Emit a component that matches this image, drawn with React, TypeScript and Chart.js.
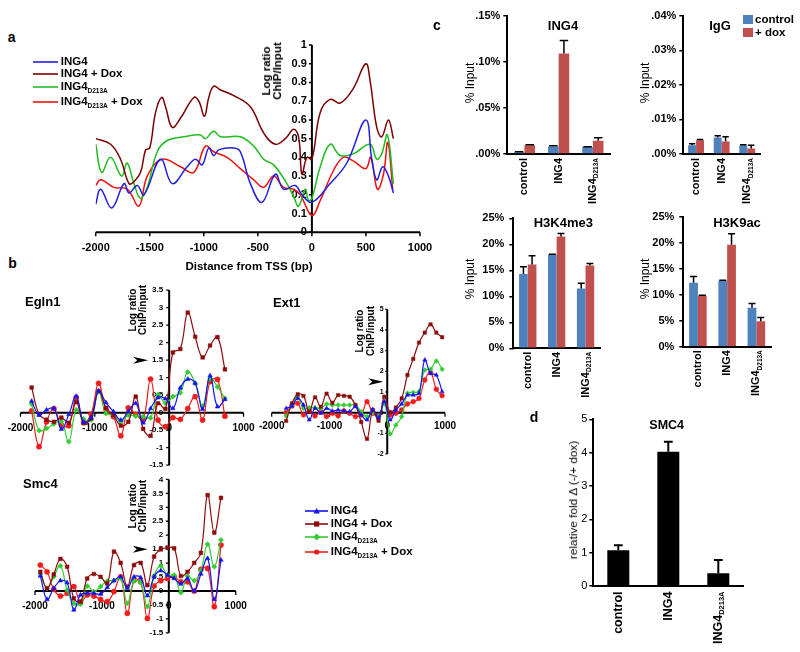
import React, { useEffect, useRef } from 'react';
import { Chart, registerables } from 'chart.js';

Chart.register(...registerables);

const FONT = '"Liberation Sans", Arial, Helvetica, sans-serif';

// ================= Panel a (smoothed ChIP-chip profiles) =================
const A_ING4_X = [-2000,-1954,-1852,-1738,-1692,-1615,-1554,-1400,-1292,-1154,-1077,-1015,-954,-908,-862,-723,-662,-569,-462,-338,-262,-154,-92,0,169,323,498,554,600,655,708,754];
const A_ING4_Y = [0.15,0.23,0.13,0.26,0.21,0.25,0.20,0.39,0.26,0.35,0.39,0.36,0.45,0.41,0.44,0.45,0.43,0.26,0.16,0.31,0.23,0.25,0.20,0.16,0.26,0.37,0.60,0.39,0.28,0.35,0.30,0.21];
const A_DOX_X = [-2000,-1862,-1770,-1692,-1646,-1585,-1538,-1500,-1446,-1390,-1354,-1292,-1215,-1092,-1046,-994,-954,-908,-846,-723,-569,-446,-338,-246,-169,-123,-92,-46,0,77,169,262,385,498,538,600,646,708,754];
const A_DOX_Y = [0.50,0.47,0.39,0.26,0.27,0.32,0.44,0.45,0.64,0.72,0.67,0.56,0.61,0.72,0.70,0.62,0.72,0.78,0.76,0.73,0.67,0.53,0.47,0.50,0.55,0.51,0.31,0.40,0.39,0.64,0.71,0.69,0.77,0.90,0.81,0.56,0.51,0.60,0.50];
const A_MUT_X = [-2000,-1945,-1862,-1760,-1710,-1646,-1585,-1523,-1431,-1338,-1185,-1031,-985,-908,-846,-662,-538,-446,-354,-231,-169,-123,-62,-31,0,77,169,262,385,538,600,646,698,754];
const A_MUT_Y = [0.47,0.32,0.40,0.30,0.37,0.26,0.18,0.24,0.43,0.49,0.51,0.52,0.50,0.54,0.51,0.51,0.46,0.39,0.36,0.26,0.19,0.14,0.23,0.17,0.18,0.35,0.47,0.41,0.42,0.47,0.39,0.42,0.52,0.26];
const A_MUTDOX_X = [-2000,-1954,-1831,-1708,-1600,-1523,-1385,-1215,-1092,-985,-908,-785,-662,-538,-446,-354,-262,-169,-108,0,77,200,292,385,498,545,606,662,702,748];
const A_MUTDOX_Y = [0.25,0.28,0.24,0.23,0.14,0.30,0.39,0.35,0.32,0.46,0.43,0.40,0.34,0.28,0.24,0.30,0.24,0.23,0.20,0.09,0.17,0.33,0.40,0.38,0.34,0.40,0.23,0.31,0.48,0.23];
const A_X_TICKS = [-2000,-1500,-1000,-500,0,500,1000];
const A_X_LABELS = ['-2000','-1500','-1000','-500','0','500','1000'];
const A_Y_TICKS = [0,0.1,0.2,0.3,0.4,0.5,0.6,0.7,0.8,0.9,1];
const A_Y_LABELS = ['0','0.1','0.2','0.3','0.4','0.5','0.6','0.7','0.8','0.9','1'];

// ================= Panel b (probe-level profiles) =================
const B_X_TICKS = [-2000,-1000,0,1000];
const B_X_LABELS = ['-2000','-1000','0','1000'];

const EGLN1_X = [-1850,-1750,-1650,-1550,-1450,-1350,-1250,-1150,-1050,-950,-850,-750,-650,-550,-450,-350,-250,-150,-50,50,150,250,350,450,550,650,750];
const EGLN1_ING4 = [0.33,-0.07,0.08,0.12,-0.47,-0.05,0.47,-0.27,-0.14,0.62,0.29,0.03,-0.21,0.03,0.27,-0.29,0.12,0.43,0.40,0.12,0.71,0.96,0.84,0.10,1.06,0.17,0.38];
const EGLN1_DOX = [0.72,-0.05,-0.20,-0.26,-0.14,-0.29,0.30,-0.30,-0.16,0.62,0.14,-0.07,-0.37,-0.26,0.46,-0.46,-0.66,0.27,0.11,1.72,1.82,2.86,2.17,1.58,1.92,2.16,1.24];
const EGLN1_MUT = [0.25,-0.51,-0.45,-0.32,-0.25,-0.83,0.08,-0.18,-0.21,0.60,-0.02,-0.07,-0.26,-0.07,-0.10,-0.11,-0.15,0.52,0.27,0.46,0.57,1.16,0.84,0.19,0.98,0.74,0.41];
const EGLN1_MUTDOX = [0.05,-0.97,-0.26,0.12,-0.35,-0.37,0.44,-0.28,-0.04,0.84,0.10,-0.11,-0.66,0.14,-0.05,-0.19,0.96,-0.21,-0.40,-0.14,-0.19,0.12,0.46,-0.21,0.89,0.95,-0.10];
const EGLN1_Y_TICKS = [-1.5,-1,-0.5,0,0.5,1,1.5,2,2.5,3,3.5];
const EGLN1_Y_LABELS = ['-1.5','-1','-0.5','0','0.5','1','1.5','2','2.5','3','3.5'];

const EXT1_X = [-1750,-1650,-1550,-1450,-1350,-1250,-1150,-1050,-950,-850,-750,-650,-550,-450,-350,-250,-150,-50,50,150,250,350,450,550,650,750,850,950];
const EXT1_ING4 = [0.21,0.32,0.69,0.37,-0.35,0.21,-0.03,0.21,0.08,0.13,0.08,0.05,0.29,-0.11,-0.35,0.16,-0.24,0.53,-0.35,0.13,0.42,0.85,0.85,0.94,2.55,1.90,1.82,1.02];
const EXT1_DOX = [-0.40,0.45,0.89,0.81,0.05,0.74,0.29,0.92,0.48,0.85,0.81,0.77,0.37,-0.45,-1.27,0.13,-0.39,0.77,0.02,0.25,0.69,1.82,2.60,3.39,3.87,4.27,3.87,3.65];
const EXT1_MUT = [-0.16,0.37,0.77,0.21,0.24,0.24,0.21,0.42,0.37,0.37,0.37,0.37,0.37,0.05,-0.19,0.00,-0.19,0.45,-1.03,-0.60,-0.19,0.94,0.98,1.02,2.06,2.10,2.50,2.10];
const EXT1_MUTDOX = [0.00,0.32,0.45,-0.11,0.13,-0.16,0.05,-0.19,-0.03,-0.16,0.08,-0.03,-0.19,-0.11,0.53,-0.03,-0.16,0.45,-0.11,-0.03,0.13,0.42,0.53,0.69,1.58,1.94,1.13,0.82];
const EXT1_Y_TICKS = [-2,-1,0,1,2,3,4,5];
const EXT1_Y_LABELS = ['-2','-1','0','1','2','3','4','5'];

const SMC4_X = [-1920,-1820,-1720,-1620,-1520,-1420,-1320,-1220,-1120,-1020,-920,-820,-720,-620,-520,-420,-320,-220,-120,-20,80,180,280,380,480,580,680,780];
const SMC4_ING4 = [0.54,-0.30,0.10,0.37,0.30,-0.68,-0.14,-0.08,-0.08,-0.11,0.13,0.37,0.51,0.10,0.51,0.48,-0.17,0.51,0.73,0.57,0.45,0.25,0.45,0.00,0.61,1.17,-0.30,1.11];
const SMC4_DOX = [0.69,0.10,0.60,1.15,0.87,-0.26,-0.38,0.45,0.61,0.51,0.27,1.41,1.01,0.16,0.93,1.01,0.21,1.23,1.49,1.56,1.53,0.54,0.69,1.01,1.37,3.44,2.09,3.34];
const SMC4_MUT = [0.61,0.10,0.51,0.90,0.04,-0.44,-0.47,0.18,-0.02,0.16,0.36,0.37,0.45,-0.44,0.36,0.30,-0.56,0.54,0.90,0.57,0.57,-0.06,0.54,0.37,0.73,1.68,0.87,1.83];
const SMC4_MUTDOX = [0.93,0.69,0.06,-0.18,-0.08,0.16,-0.42,-0.14,-0.18,-0.30,-0.38,-0.02,0.51,-0.80,0.39,0.33,-0.98,0.18,0.37,0.45,0.51,0.33,0.33,0.00,0.78,0.81,-0.56,1.65];
const SMC4B_Y_TICKS = [-1.5,-1,-0.5,0,0.5,1,1.5,2,2.5,3,3.5,4];
const SMC4B_Y_LABELS = ['-1.5','-1','-0.5','0','0.5','1','1.5','2','2.5','3','3.5','4'];

// ================= Panel c (ChIP-qPCR, % input) =================
const C_CATEGORIES = [{ main: 'control' }, { main: 'ING4' }, { main: 'ING4', sub: 'D213A' }];
const ING4_CTRL = [0.002, 0.008, 0.0075];
const ING4_CTRL_ERR = [0.0005, 0.001, 0.0004];
const ING4_DOX = [0.0095, 0.109, 0.0145];
const ING4_DOX_ERR = [0.0005, 0.014, 0.003];
const ING4_Y_TICKS = [0, 0.05, 0.1, 0.15];
const ING4_Y_LABELS = ['.00%', '.05%', '.10%', '.15%'];

const IGG_CTRL = [0.0025, 0.0048, 0.0025];
const IGG_CTRL_ERR = [0.0005, 0.0005, 0.0002];
const IGG_DOX = [0.004, 0.0036, 0.0016];
const IGG_DOX_ERR = [0.0002, 0.0014, 0.0009];
const IGG_Y_TICKS = [0, 0.01, 0.02, 0.03, 0.04];
const IGG_Y_LABELS = ['.00%', '.01%', '.02%', '.03%', '.04%'];

const K4_CTRL = [14.3, 18.0, 11.5];
const K4_CTRL_ERR = [1.4, 0.1, 1.0];
const K4_DOX = [16.1, 21.5, 15.9];
const K4_DOX_ERR = [1.7, 0.6, 0.4];
const K9_CTRL = [12.3, 12.7, 7.5];
const K9_CTRL_ERR = [1.2, 0.1, 0.8];
const K9_DOX = [9.8, 19.6, 4.9];
const K9_DOX_ERR = [0.1, 2.1, 0.7];
const HIST_Y_TICKS = [0, 5, 10, 15, 20, 25];
const HIST_Y_LABELS = ['0%', '5%', '10%', '15%', '20%', '25%'];

// ================= Panel d (SMC4 expression) =================
const D_VALUES = [1.07, 4.03, 0.38];
const D_ERR = [0.15, 0.3, 0.4];
const D_Y_TICKS = [0, 1, 2, 3, 4, 5];
const D_Y_LABELS = ['0', '1', '2', '3', '4', '5'];

// ================= colours =================
const A_BLUE = '#2020dc';
const A_DARKRED = '#7a0000';
const A_GREEN = '#22bb22';
const A_RED = '#f01010';
const B_BLUE = '#1414f0';
const B_DARKRED = '#8c0c0c';
const B_GREEN = '#33cc33';
const B_RED = '#f01c1c';
const C_BLUE = '#4f81bd';
const C_RED = '#c0504d';

// ================= plugins =================
function crossAxes(cfg: any) {
  return {
    id: 'crossAxes',
    beforeDatasetsDraw(chart: any) {
      const ctx = chart.ctx;
      const xs = chart.scales.x;
      const ys = chart.scales.y;
      const x0 = xs.getPixelForValue(0);
      const y0 = ys.getPixelForValue(0);
      ctx.save();
      ctx.strokeStyle = '#000';
      ctx.fillStyle = '#000';
      ctx.lineWidth = cfg.lineWidth;
      ctx.beginPath();
      ctx.moveTo(xs.getPixelForValue(xs.min), y0);
      ctx.lineTo(xs.getPixelForValue(xs.max), y0);
      ctx.moveTo(x0, ys.getPixelForValue(ys.min));
      ctx.lineTo(x0, ys.getPixelForValue(ys.max));
      ctx.stroke();
      ctx.lineWidth = cfg.tickWidth;
      ctx.beginPath();
      cfg.xTicks.forEach((v: number) => {
        const px = xs.getPixelForValue(v);
        ctx.moveTo(px, y0);
        ctx.lineTo(px, y0 + cfg.xTickLen);
      });
      cfg.yTicks.forEach((v: number) => {
        const py = ys.getPixelForValue(v);
        ctx.moveTo(x0, py);
        ctx.lineTo(x0 - cfg.yTickLen, py);
      });
      ctx.stroke();
      ctx.font = cfg.xFont;
      ctx.textAlign = 'center';
      ctx.textBaseline = 'middle';
      cfg.xTicks.forEach((v: number, i: number) => {
        ctx.fillText(cfg.xLabels[i], xs.getPixelForValue(v), y0 + cfg.xLabelOffset);
      });
      ctx.font = cfg.yFont;
      ctx.textAlign = 'right';
      cfg.yTicks.forEach((v: number, i: number) => {
        ctx.fillText(cfg.yLabels[i], x0 - cfg.yLabelGap, ys.getPixelForValue(v));
      });
      if (cfg.arrow) {
        const a = cfg.arrow;
        const py = ys.getPixelForValue(a.value);
        const tip = x0 - a.tipOffset;
        ctx.beginPath();
        ctx.moveTo(tip, py);
        ctx.lineTo(tip - a.len, py - a.half);
        ctx.lineTo(tip - a.len + 4, py);
        ctx.lineTo(tip - a.len, py + a.half);
        ctx.closePath();
        ctx.fill();
      }
      ctx.restore();
    },
  };
}

function errorBars(errs: number[][], capFrac: number, lw: number) {
  return {
    id: 'errorBars',
    afterDatasetsDraw(chart: any) {
      const ctx = chart.ctx;
      const ys = chart.scales.y;
      ctx.save();
      ctx.strokeStyle = '#000';
      ctx.lineWidth = lw;
      errs.forEach((arr, d) => {
        const meta = chart.getDatasetMeta(d);
        const vals = chart.data.datasets[d].data;
        meta.data.forEach((bar: any, i: number) => {
          const e = arr[i];
          if (!e) return;
          const p = bar.getProps(['x', 'y', 'width'], true);
          const top = ys.getPixelForValue(vals[i] + e);
          const hw = (p.width * capFrac) / 2;
          ctx.beginPath();
          ctx.moveTo(p.x, p.y);
          ctx.lineTo(p.x, top);
          ctx.moveTo(p.x - hw, top);
          ctx.lineTo(p.x + hw, top);
          ctx.stroke();
        });
      });
      ctx.restore();
    },
  };
}

function catLabels(labels: any[], font: string, subFont: string, gap: number, subShift: number) {
  return {
    id: 'catLabels',
    afterDraw(chart: any) {
      const ctx = chart.ctx;
      const xs = chart.scales.x;
      const area = chart.chartArea;
      ctx.save();
      ctx.fillStyle = '#000';
      ctx.textBaseline = 'middle';
      ctx.textAlign = 'left';
      labels.forEach((lab: any, i: number) => {
        const px = xs.getPixelForValue(i);
        const py = area.bottom + gap;
        ctx.save();
        ctx.translate(px, py);
        ctx.rotate(-Math.PI / 2);
        ctx.font = font;
        const wm = ctx.measureText(lab.main).width;
        let ws = 0;
        if (lab.sub) {
          ctx.font = subFont;
          ws = ctx.measureText(lab.sub).width;
        }
        const start = -(wm + ws);
        ctx.font = font;
        ctx.fillText(lab.main, start, 0);
        if (lab.sub) {
          ctx.font = subFont;
          ctx.fillText(lab.sub, start + wm, subShift);
        }
        ctx.restore();
      });
      ctx.restore();
    },
  };
}

// ================= config builders =================
function lineConfig(o: any) {
  return {
    type: 'line',
    data: {
      datasets: o.series.map((s: any) => ({
        label: s.label,
        data: s.xs.map((x: number, i: number) => ({ x, y: s.ys[i] })),
        borderColor: s.color,
        backgroundColor: s.color,
        borderWidth: o.lineWidth,
        pointStyle: s.point,
        pointRadius: o.pointRadius,
        pointBackgroundColor: s.color,
        pointBorderColor: s.color,
        pointBorderWidth: 0.5,
        tension: o.tension,
        fill: false,
      })),
    },
    options: {
      responsive: false,
      animation: false,
      devicePixelRatio: 1,
      events: [],
      layout: { padding: o.padding },
      plugins: { legend: { display: false }, tooltip: { enabled: false } },
      scales: {
        x: { type: 'linear', min: o.xMin, max: o.xMax, display: false },
        y: { type: 'linear', min: o.yMin, max: o.yMax, display: false },
      },
    },
    plugins: [crossAxes(o.cross)],
  };
}

function barConfig(o: any) {
  return {
    type: 'bar',
    data: {
      labels: o.labels.map((l: any) => l.main + (l.sub || '')),
      datasets: o.sets.map((s: any) => ({
        label: s.label,
        data: s.data,
        backgroundColor: s.color,
        borderWidth: 0,
        categoryPercentage: o.catPct,
        barPercentage: o.barPct,
      })),
    },
    options: {
      responsive: false,
      animation: false,
      devicePixelRatio: 1,
      events: [],
      layout: { padding: o.padding },
      plugins: { legend: { display: false }, tooltip: { enabled: false } },
      scales: {
        x: {
          grid: { display: false },
          border: { display: true, color: '#000', width: 2 },
          ticks: { display: false },
          afterFit: (s: any) => { s.height = 0; },
        },
        y: {
          min: 0,
          max: o.yMax,
          afterBuildTicks: (s: any) => { s.ticks = o.yTicks.map((v: number) => ({ value: v })); },
          ticks: {
            callback: (_v: any, i: number) => o.yLabels[i],
            font: o.yFont,
            color: '#000',
            padding: o.yPad,
          },
          grid: { display: true, drawOnChartArea: false, drawTicks: true, tickLength: 4, color: '#000', lineWidth: 1.5 },
          border: { display: true, color: '#000', width: 2 },
          afterFit: (s: any) => { s.width = 40; },
        },
      },
    },
    plugins: [
      errorBars(o.errs, o.capFrac, o.errLw),
      catLabels(o.labels, o.catFont, o.catSubFont, o.catGap, o.subShift),
    ],
  };
}

const bFont = (px: number) => `bold ${px}px ${FONT}`;

function bSeries(xs: number[], a: number[], b: number[], c: number[], d: number[]) {
  return [
    { label: 'ING4', xs, ys: a, color: B_BLUE, point: 'triangle' },
    { label: 'ING4 + Dox', xs, ys: b, color: B_DARKRED, point: 'rect' },
    { label: 'ING4 D213A', xs, ys: c, color: B_GREEN, point: 'rectRot' },
    { label: 'ING4 D213A + Dox', xs, ys: d, color: B_RED, point: 'circle' },
  ];
}

const makePanelA = () =>
  lineConfig({
    series: [
      { label: 'ING4', xs: A_ING4_X, ys: A_ING4_Y, color: A_BLUE, point: 'circle' },
      { label: 'ING4 + Dox', xs: A_DOX_X, ys: A_DOX_Y, color: A_DARKRED, point: 'circle' },
      { label: 'ING4 D213A', xs: A_MUT_X, ys: A_MUT_Y, color: A_GREEN, point: 'circle' },
      { label: 'ING4 D213A + Dox', xs: A_MUTDOX_X, ys: A_MUTDOX_Y, color: A_RED, point: 'circle' },
    ],
    xMin: -2000, xMax: 1000, yMin: 0, yMax: 1,
    padding: { left: 35.7, right: 20, top: 15, bottom: 37.7 },
    lineWidth: 1.5, pointRadius: 0, tension: 0.4,
    cross: {
      xTicks: A_X_TICKS, xLabels: A_X_LABELS, yTicks: A_Y_TICKS, yLabels: A_Y_LABELS,
      xFont: bFont(11), yFont: bFont(11), lineWidth: 2, tickWidth: 1.5,
      xTickLen: 4, yTickLen: 3, xLabelOffset: 16, yLabelGap: 5,
    },
  });

const makeEgln1 = () =>
  lineConfig({
    series: bSeries(EGLN1_X, EGLN1_ING4, EGLN1_DOX, EGLN1_MUT, EGLN1_MUTDOX),
    xMin: -2000, xMax: 1000, yMin: -1.5, yMax: 3.5,
    padding: { left: 20.5, right: 16.5, top: 15.2, bottom: 9.8 },
    lineWidth: 1.2, pointRadius: 2.6, tension: 0.4,
    cross: {
      xTicks: B_X_TICKS, xLabels: B_X_LABELS, yTicks: EGLN1_Y_TICKS, yLabels: EGLN1_Y_LABELS,
      xFont: bFont(10), yFont: bFont(8), lineWidth: 2, tickWidth: 1.3,
      xTickLen: 4, yTickLen: 3, xLabelOffset: 15.6, yLabelGap: 6,
      arrow: { value: 1.5, tipOffset: 21, len: 15, half: 3.5 },
    },
  });

const makeExt1 = () =>
  lineConfig({
    series: bSeries(EXT1_X, EXT1_ING4, EXT1_DOX, EXT1_MUT, EXT1_MUTDOX),
    xMin: -2000, xMax: 1000, yMin: -2, yMax: 5,
    padding: { left: 21.7, right: 15, top: 14.3, bottom: 16 },
    lineWidth: 1.2, pointRadius: 2.4, tension: 0.4,
    cross: {
      xTicks: B_X_TICKS, xLabels: B_X_LABELS, yTicks: EXT1_Y_TICKS, yLabels: EXT1_Y_LABELS,
      xFont: bFont(10), yFont: bFont(7), lineWidth: 2, tickWidth: 1.2,
      xTickLen: 4, yTickLen: 2, xLabelOffset: 14, yLabelGap: 3.5,
      arrow: { value: 1.5, tipOffset: 4, len: 15, half: 3.5 },
    },
  });

const makeSmc4b = () =>
  lineConfig({
    series: bSeries(SMC4_X, SMC4_ING4, SMC4_DOX, SMC4_MUT, SMC4_MUTDOX),
    xMin: -2000, xMax: 1000, yMin: -1.5, yMax: 4,
    padding: { left: 25, right: 14.3, top: 14.4, bottom: 19.1 },
    lineWidth: 1.2, pointRadius: 2.6, tension: 0.4,
    cross: {
      xTicks: B_X_TICKS, xLabels: B_X_LABELS, yTicks: SMC4B_Y_TICKS, yLabels: SMC4B_Y_LABELS,
      xFont: bFont(10), yFont: bFont(8), lineWidth: 2, tickWidth: 1.3,
      xTickLen: 4, yTickLen: 3, xLabelOffset: 15, yLabelGap: 5.5,
      arrow: { value: 1.5, tipOffset: 21, len: 15, half: 3.5 },
    },
  });

const cCommon = {
  labels: C_CATEGORIES,
  yFont: { family: FONT, size: 11, weight: 'bold' },
  catFont: bFont(11), catSubFont: bFont(6.5), subShift: 3.5,
  catPct: 0.62, barPct: 1, capFrac: 0.8, errLw: 1.5,
};

const makeIng4 = () =>
  barConfig({
    ...cCommon,
    sets: [
      { label: 'control', data: ING4_CTRL, color: C_BLUE },
      { label: '+ dox', data: ING4_DOX, color: C_RED },
    ],
    errs: [ING4_CTRL_ERR, ING4_DOX_ERR],
    yMax: 0.15, yTicks: ING4_Y_TICKS, yLabels: ING4_Y_LABELS, yPad: 3,
    padding: { left: 7.3, right: 10, top: 15.7, bottom: 56 },
    catGap: 4,
  });

const makeIgg = () =>
  barConfig({
    ...cCommon,
    sets: [
      { label: 'control', data: IGG_CTRL, color: C_BLUE },
      { label: '+ dox', data: IGG_DOX, color: C_RED },
    ],
    errs: [IGG_CTRL_ERR, IGG_DOX_ERR],
    yMax: 0.04, yTicks: IGG_Y_TICKS, yLabels: IGG_Y_LABELS, yPad: 3,
    padding: { left: 7.3, right: 10, top: 15.7, bottom: 56 },
    catGap: 4,
  });

const makeK4 = () =>
  barConfig({
    ...cCommon,
    catPct: 0.6,
    sets: [
      { label: 'control', data: K4_CTRL, color: C_BLUE },
      { label: '+ dox', data: K4_DOX, color: C_RED },
    ],
    errs: [K4_CTRL_ERR, K4_DOX_ERR],
    yMax: 25, yTicks: HIST_Y_TICKS, yLabels: HIST_Y_LABELS, yPad: 5,
    padding: { left: 7.3, right: 10, top: 13.3, bottom: 56.7 },
    catGap: 3.5,
  });

const makeK9 = () =>
  barConfig({
    ...cCommon,
    catPct: 0.6,
    sets: [
      { label: 'control', data: K9_CTRL, color: C_BLUE },
      { label: '+ dox', data: K9_DOX, color: C_RED },
    ],
    errs: [K9_CTRL_ERR, K9_DOX_ERR],
    yMax: 25, yTicks: HIST_Y_TICKS, yLabels: HIST_Y_LABELS, yPad: 5,
    padding: { left: 7.3, right: 10, top: 11.7, bottom: 58.3 },
    catGap: 3.5,
  });

const makeD = () =>
  barConfig({
    labels: C_CATEGORIES,
    sets: [{ label: 'relative fold', data: D_VALUES, color: '#000' }],
    errs: [D_ERR],
    yMax: 5, yTicks: D_Y_TICKS, yLabels: D_Y_LABELS, yPad: 2,
    yFont: { family: FONT, size: 11, weight: 'normal' },
    padding: { left: 7.3, right: 9.7, top: 14.3, bottom: 66 },
    catFont: bFont(12.5), catSubFont: bFont(7.5), subShift: 4, catGap: 5.5,
    catPct: 1, barPct: 0.44, capFrac: 0.4, errLw: 2,
  });

// ================= components =================
function ChartBox(props: { left: number; top: number; width: number; height: number; make: () => any }) {
  const ref = useRef<HTMLCanvasElement | null>(null);
  useEffect(() => {
    const chart = new Chart(ref.current as HTMLCanvasElement, props.make());
    return () => chart.destroy();
  }, []);
  return (
    <canvas
      ref={ref}
      width={props.width}
      height={props.height}
      style={{ position: 'absolute', left: props.left, top: props.top, width: props.width, height: props.height }}
    />
  );
}

function T(props: { x: number; y: number; size: number; bold?: boolean; rot?: boolean; left?: boolean; lh?: number; children: any }) {
  const { x, y, size, bold = true, rot = false, left = false, lh = 1.0, children } = props;
  const tr = (left ? 'translate(0,-50%)' : 'translate(-50%,-50%)') + (rot ? ' rotate(-90deg)' : '');
  return (
    <div
      style={{
        position: 'absolute', left: x, top: y, transform: tr, fontFamily: FONT, fontSize: size,
        fontWeight: bold ? 700 : 400, lineHeight: lh, whiteSpace: 'nowrap', textAlign: 'center', color: '#000',
      }}
    >
      {children}
    </div>
  );
}

const Sub = (p: { size: number; children: any }) => (
  <span style={{ fontSize: p.size, position: 'relative', top: 3 }}>{p.children}</span>
);

function Marker(p: { kind: string; c: number; color: string }) {
  const { kind, c, color } = p;
  if (kind === 'triangle') return <polygon points={`${c},1 ${c + 3.2},6.5 ${c - 3.2},6.5`} fill={color} />;
  if (kind === 'rect') return <rect x={c - 2.6} y={1.4} width={5.2} height={5.2} fill={color} />;
  if (kind === 'rectRot') return <polygon points={`${c},0.6 ${c + 3.4},4 ${c},7.4 ${c - 3.4},4`} fill={color} />;
  if (kind === 'circle') return <circle cx={c} cy={4} r={2.6} fill={color} />;
  return null;
}

function LegendRow(p: { x: number; y: number; color: string; marker?: string; len: number; size: number; children: any }) {
  return (
    <div style={{ position: 'absolute', left: p.x, top: p.y, height: 0 }}>
      <svg width={p.len} height={8} style={{ position: 'absolute', left: 0, top: -4 }}>
        <line x1={0} y1={4} x2={p.len} y2={4} stroke={p.color} strokeWidth={1.6} />
        {p.marker ? <Marker kind={p.marker} c={p.len / 2} color={p.color} /> : null}
      </svg>
      <div
        style={{
          position: 'absolute', left: p.len + 2.4, top: 0, transform: 'translateY(-50%)', fontFamily: FONT,
          fontSize: p.size, fontWeight: 700, whiteSpace: 'nowrap', lineHeight: 1, color: '#000',
        }}
      >
        {p.children}
      </div>
    </div>
  );
}

export default function App() {
  return (
    <div style={{ position: 'absolute', left: 0, top: 0, width: 800, height: 652, background: '#fff', overflow: 'hidden' }}>
      {/* charts */}
      <ChartBox left={60} top={30} width={380} height={240} make={makePanelA} />
      <ChartBox left={0} top={275} width={260} height={200} make={makeEgln1} />
      <ChartBox left={250} top={295} width={210} height={175} make={makeExt1} />
      <ChartBox left={10} top={465} width={240} height={187} make={makeSmc4b} />
      <ChartBox left={460} top={0} width={160} height={210} make={makeIng4} />
      <ChartBox left={636} top={0} width={134} height={210} make={makeIgg} />
      <ChartBox left={466} top={205} width={144} height={200} make={makeK4} />
      <ChartBox left={636} top={205} width={145} height={200} make={makeK9} />
      <ChartBox left={546} top={405} width={207} height={247} make={makeD} />

      {/* panel letters */}
      <T x={11.7} y={36.7} size={14}>a</T>
      <T x={12.5} y={263.3} size={14}>b</T>
      <T x={437} y={24.5} size={14}>c</T>
      <T x={534} y={417} size={14}>d</T>

      {/* panel a texts */}
      <T x={272} y={71} size={11.5} rot lh={0.95}>Log ratio<br />ChIP/Input</T>
      <T x={249} y={267} size={11.5}>Distance from TSS (bp)</T>
      <LegendRow x={33.3} y={61.7} color={A_BLUE} len={25} size={11.5}>ING4</LegendRow>
      <LegendRow x={33.3} y={74} color={A_DARKRED} len={25} size={11.5}>ING4 + Dox</LegendRow>
      <LegendRow x={33.3} y={86.7} color={A_GREEN} len={25} size={11.5}>ING4<Sub size={6.5}>D213A</Sub></LegendRow>
      <LegendRow x={33.3} y={101.7} color={A_RED} len={25} size={11.5}>ING4<Sub size={6.5}>D213A</Sub> + Dox</LegendRow>

      {/* panel b texts */}
      <T x={25} y={301} size={13} left>Egln1</T>
      <T x={273} y={302} size={13} left>Ext1</T>
      <T x={23} y={483} size={13} left>Smc4</T>
      <T x={137.5} y={310} size={10} rot lh={1.0}>Log ratio<br />ChIP/input</T>
      <T x={365} y={331} size={10} rot lh={1.05}>Log ratio<br />ChIP/input</T>
      <T x={137.5} y={505.6} size={10.5} rot lh={0.95}>Log ratio<br />ChIP/input</T>
      <LegendRow x={305} y={511} color={B_BLUE} marker="triangle" len={23.3} size={11.5}>ING4</LegendRow>
      <LegendRow x={305} y={524} color={B_DARKRED} marker="rect" len={23.3} size={11.5}>ING4 + Dox</LegendRow>
      <LegendRow x={305} y={537.3} color={B_GREEN} marker="rectRot" len={23.3} size={11.5}>ING4<Sub size={6.5}>D213A</Sub></LegendRow>
      <LegendRow x={305} y={551.7} color={B_RED} marker="circle" len={23.3} size={11.5}>ING4<Sub size={6.5}>D213A</Sub> + Dox</LegendRow>

      {/* panel c texts */}
      <T x={563} y={25} size={13}>ING4</T>
      <T x={720} y={25} size={13}>IgG</T>
      <T x={563.3} y={221.7} size={13}>H3K4me3</T>
      <T x={737} y={221.7} size={13}>H3K9ac</T>
      <T x={470} y={82.5} size={12} bold={false} rot>% Input</T>
      <T x={645} y={82.5} size={12} bold={false} rot>% Input</T>
      <T x={470} y={279} size={12} bold={false} rot>% Input</T>
      <T x={645} y={279} size={12} bold={false} rot>% Input</T>
      <div style={{ position: 'absolute', left: 743.3, top: 15, width: 9.4, height: 9, background: C_BLUE }} />
      <div style={{ position: 'absolute', left: 743.3, top: 28, width: 9.4, height: 9, background: C_RED }} />
      <T x={755} y={19.5} size={11.5} left>control</T>
      <T x={755} y={32.5} size={11.5} left>+ dox</T>

      {/* panel d texts */}
      <T x={666.7} y={425} size={12.5}>SMC4</T>
      <T x={573.5} y={500} size={11.8} bold={false} rot>relative fold Δ (-/+ dox)</T>
    </div>
  );
}
